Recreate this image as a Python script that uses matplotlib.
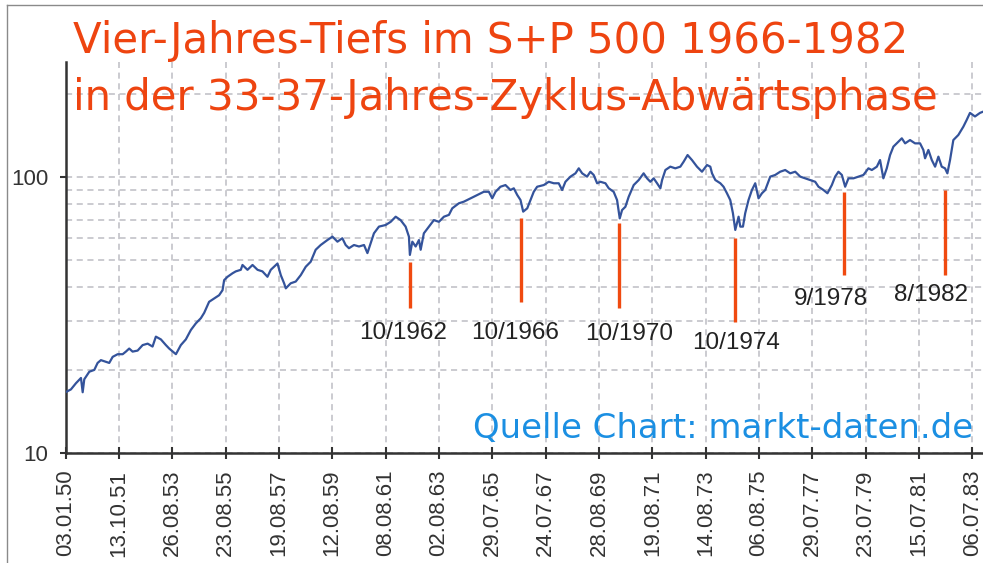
import matplotlib
matplotlib.use("Agg")
import matplotlib.pyplot as plt
from matplotlib.ticker import FixedLocator, NullFormatter, FuncFormatter
from matplotlib.lines import Line2D

# Handelstag-Index (Tick alle 500 Tage) und S&P-500-Stand
tage = [0, 51, 98, 145, 161, 176, 223, 270, 301, 332, 379, 410, 442, 489, 536, 566, 597, 629,
        676, 723, 770, 816, 847, 894, 941, 972, 1035, 1081, 1128, 1175, 1222, 1269, 1300, 1346,
        1393, 1440, 1472, 1487, 1519, 1566, 1596, 1643, 1659, 1706, 1753, 1800, 1846, 1893,
        1924, 1987, 2018, 2049, 2065, 2111, 2158, 2205, 2252, 2298, 2345, 2392, 2455, 2502,
        2549, 2595, 2626, 2657, 2704, 2751, 2798, 2830, 2860, 2891, 2938, 3001, 3048, 3095,
        3141, 3188, 3219, 3228, 3251, 3282, 3313, 3329, 3359, 3406, 3453, 3500, 3547, 3594,
        3625, 3687, 3734, 3797, 3859, 3921, 3968, 4000, 4031, 4047, 4077, 4124, 4171, 4202,
        4234, 4265, 4290, 4328, 4358, 4389, 4421, 4483, 4530, 4577, 4623, 4655, 4686, 4733,
        4780, 4811, 4843, 4889, 4920, 4951, 4983, 5014, 5061, 5092, 5138, 5170, 5195, 5217,
        5248, 5279, 5326, 5373, 5419, 5451, 5482, 5513, 5545, 5576, 5592, 5623, 5669, 5716,
        5763, 5794, 5831, 5872, 5919, 5966, 6013, 6044, 6060, 6091, 6138, 6168, 6200, 6231,
        6256, 6278, 6309, 6325, 6350, 6371, 6402, 6434, 6465, 6496, 6528, 6559, 6606, 6652,
        6699, 6746, 6793, 6840, 6887, 6933, 6980, 7027, 7058, 7105, 7142, 7183, 7214, 7245,
        7277, 7308, 7339, 7386, 7432, 7479, 7526, 7558, 7605, 7635, 7666, 7698, 7729, 7760,
        7807, 7839, 7870, 7916, 7963, 8010, 8041, 8057, 8088, 8120, 8151, 8182, 8213, 8244,
        8266, 8291, 8322, 8369, 8416, 8447, 8478, 8525, 8572, 8600]
kurs = [16.6, 17.0, 17.9, 18.7, 16.6, 18.5, 19.7, 20.0, 21.2, 21.7, 21.4, 21.2, 22.3, 22.8, 22.8,
        23.3, 23.9, 23.3, 23.5, 24.6, 24.9, 24.3, 26.4, 25.8, 24.6, 23.9, 22.8, 24.6, 25.8, 27.9,
        29.5, 30.8, 32.2, 35.3, 36.3, 37.3, 38.9, 42.3, 43.5, 44.8, 45.5, 46.1, 48.0, 46.1, 48.0,
        46.1, 45.5, 43.5, 46.1, 48.6, 44.1, 41.2, 39.5, 41.2, 41.8, 44.1, 47.3, 49.3, 54.5, 56.7,
        59.1, 60.8, 58.3, 60.0, 56.7, 55.2, 56.7, 56.0, 56.7, 53.0, 57.5, 62.5, 66.1, 67.0, 68.8,
        71.8, 69.8, 66.1, 60.8, 52.2, 58.3, 56.0, 59.1, 54.5, 62.5, 66.1, 69.8, 68.8, 71.8, 72.9,
        77.0, 80.3, 81.4, 83.7, 86.1, 88.4, 88.4, 83.7, 88.4, 89.7, 92.2, 93.5, 89.7, 91.0, 86.1,
        82.5, 74.9, 77.0, 82.5, 88.4, 92.2, 93.5, 96.1, 94.9, 94.9, 89.7, 96.1, 100.3, 103.1,
        107.5, 103.1, 100.3, 104.5, 101.7, 94.9, 96.1, 94.9, 91.0, 88.4, 82.5, 70.8, 75.9, 78.0,
        84.8, 93.5, 97.5, 103.1, 98.9, 96.1, 98.9, 94.9, 91.0, 97.5, 106.0, 109.0, 107.5, 109.0,
        113.6, 120.1, 115.2, 109.0, 104.5, 110.5, 109.0, 103.1, 97.5, 94.9, 92.2, 87.3, 82.5,
        73.9, 64.3, 71.8, 66.1, 66.1, 73.9, 82.5, 89.7, 94.9, 83.7, 87.3, 89.7, 100.3, 101.7,
        104.5, 106.0, 103.1, 104.5, 100.3, 98.9, 97.5, 96.1, 92.2, 89.7, 87.3, 93.5, 100.3, 104.5,
        101.7, 92.2, 98.9, 98.9, 100.3, 101.7, 107.5, 106.0, 109.0, 115.2, 98.9, 107.5, 120.1,
        128.8, 134.2, 138.1, 132.4, 136.1, 132.4, 132.4, 125.3, 116.9, 125.3, 115.2, 109.0,
        118.5, 109.0, 107.5, 103.1, 115.2, 136.1, 142.0, 152.2, 160.9, 170.7, 165.7, 170.7, 172.4]

tick_tage = list(range(0, 8501, 500))
tick_labels = ["03.01.50", "13.10.51", "26.08.53", "23.08.55", "19.08.57", "12.08.59",
               "08.08.61", "02.08.63", "29.07.65", "24.07.67", "28.08.69", "19.08.71",
               "14.08.73", "06.08.75", "29.07.77", "23.07.79", "15.07.81", "06.07.83"]

# Tiefs: Datum-Text, Handelstag, Linie oben/unten, Textposition
tief_namen = ["10/1962", "10/1966", "10/1970", "10/1974", "9/1978", "8/1982"]
tief_tage = [3228, 4271, 5189, 6278, 7298, 8244]
tief_oben = [49.3, 70.8, 67.9, 60.0, 88.4, 89.7]
tief_unten = [33.5, 35.1, 33.5, 29.8, 44.1, 44.1]
text_tage = [3165, 4218, 5285, 6287, 7177, 8113]
text_wert = [27.2, 27.2, 27.0, 25.0, 36.1, 37.3]

fig = plt.figure(figsize=(9.83, 5.63), dpi=100)
ax = fig.add_axes([65.5 / 983, 110 / 563, 1 - 65.5 / 983, (453 - 62) / 563])

ax.set_yscale("log")
ax.set_ylim(10, 261)
ax.set_xlim(0, 8600)

ax.plot(tage, kurs, color="#34539b", lw=1.6, zorder=3)

for t, o, u in zip(tief_tage, tief_oben, tief_unten):
    ax.plot([t, t], [u, o], color="#f04a10", lw=2.4, solid_capstyle="butt", zorder=4)
for n, t, w in zip(tief_namen, text_tage, text_wert):
    ax.text(t, w, n, ha="center", va="center", fontsize=17.5, color="#222222",
            family="Liberation Sans", zorder=5)

ax.yaxis.set_major_locator(FixedLocator([10, 100]))
ax.yaxis.set_major_formatter(FuncFormatter(lambda v, p: "%d" % v))
ax.yaxis.set_minor_locator(FixedLocator([20, 30, 40, 50, 60, 70, 80, 90, 200]))
ax.yaxis.set_minor_formatter(NullFormatter())
ax.xaxis.set_major_locator(FixedLocator(tick_tage))
ax.set_xticklabels(tick_labels, rotation=90, family="Liberation Sans", fontsize=16,
                   color="#333333", va="top")

ax.grid(True, which="both", axis="y", color="#bdbdc4", lw=1.1, ls=(0, (4, 3)))
ax.grid(True, which="major", axis="x", color="#bdbdc4", lw=1.1, ls=(0, (4, 3)))

ax.tick_params(axis="y", which="major", direction="out", length=4.5, width=1.5, pad=8,
               labelsize=16, labelcolor="#333333", color="#333333")
ax.tick_params(axis="y", which="minor", length=0)
ax.tick_params(axis="x", which="major", direction="inout", length=8, width=1.5, pad=8,
               color="#333333")
for lab in ax.get_yticklabels():
    lab.set_family("Liberation Sans")

for s in ["top", "right"]:
    ax.spines[s].set_visible(False)
for s in ["left", "bottom"]:
    ax.spines[s].set_linewidth(1.8)
    ax.spines[s].set_color("#333333")

titel_farbe = "#ee4410"
fig.text(73 / 983, 1 - 53 / 563, "Vier-Jahres-Tiefs im S+P 500 1966-1982", fontsize=30.2,
         color=titel_farbe, va="baseline", ha="left")
fig.text(73 / 983, 1 - 110 / 563, "in der 33-37-Jahres-Zyklus-Abwärtsphase", fontsize=30.2,
         color=titel_farbe, va="baseline", ha="left")
fig.text(473 / 983, 1 - 438 / 563, "Quelle Chart: markt-daten.de", fontsize=24.5,
         color="#1b8fe2", va="baseline", ha="left")

fig.add_artist(Line2D([7 / 983, 7 / 983], [0, 1 - 5 / 563], transform=fig.transFigure,
                      color="#8a8a8a", lw=1))
fig.add_artist(Line2D([7 / 983, 1], [1 - 5 / 563, 1 - 5 / 563], transform=fig.transFigure,
                      color="#8a8a8a", lw=1))

fig.savefig("out.png", dpi=100)
